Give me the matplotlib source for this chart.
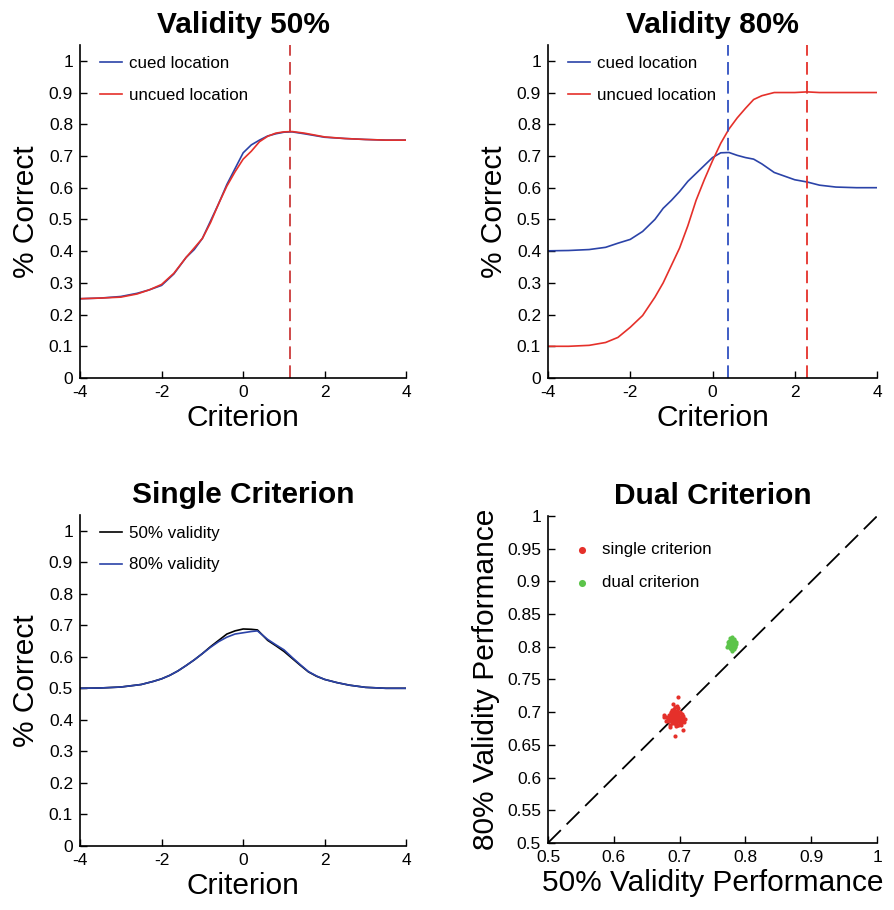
import numpy as np
import matplotlib
matplotlib.use("Agg")
import matplotlib.pyplot as plt

plt.rcParams['font.family'] = ['Liberation Sans', 'DejaVu Sans']

# =========================
# DATA
# =========================

# Validity 50%
x50 = [-4, -3.5, -3, -2.6, -2.3, -2, -1.7, -1.4, -1.2, -1.0, -0.8, -0.6, -0.4, -0.2,
       0, 0.2, 0.4, 0.6, 0.8, 1.0, 1.2, 1.5, 2.0, 2.5, 3.0, 3.5, 4]
cued50 = [0.25, 0.252, 0.257, 0.267, 0.278, 0.292, 0.328, 0.38, 0.405, 0.44, 0.495, 0.55, 0.61, 0.66,
          0.71, 0.735, 0.750, 0.763, 0.770, 0.775, 0.776, 0.770, 0.759, 0.755, 0.752, 0.75, 0.75]
uncued50 = [0.25, 0.252, 0.255, 0.265, 0.278, 0.295, 0.33, 0.38, 0.41, 0.44, 0.49, 0.55, 0.605, 0.65,
            0.69, 0.715, 0.745, 0.762, 0.772, 0.776, 0.777, 0.772, 0.760, 0.755, 0.752, 0.75, 0.75]
crit50 = 1.16

# Validity 80%
x80 = [-4, -3.5, -3, -2.6, -2.3, -2, -1.7, -1.4, -1.2, -1.0, -0.8, -0.6, -0.4, -0.2,
       0, 0.2, 0.4, 0.6, 0.8, 1.0, 1.2, 1.5, 2.0, 2.3, 2.6, 3.0, 3.5, 4]
cued80 = [0.401, 0.402, 0.405, 0.412, 0.425, 0.437, 0.462, 0.50, 0.535, 0.56, 0.588, 0.62, 0.645, 0.67,
          0.695, 0.71, 0.711, 0.702, 0.695, 0.69, 0.675, 0.648, 0.625, 0.618, 0.608, 0.602, 0.60, 0.60]
uncued80 = [0.10, 0.10, 0.103, 0.112, 0.128, 0.16, 0.197, 0.255, 0.30, 0.355, 0.41, 0.48, 0.56, 0.625,
            0.685, 0.74, 0.785, 0.82, 0.85, 0.878, 0.89, 0.90, 0.90, 0.902, 0.90, 0.90, 0.90, 0.90]
crit80_cued = 0.37
crit80_uncued = 2.3

# Single criterion
xs = [-4, -3.5, -3, -2.5, -2.2, -2, -1.8, -1.6, -1.4, -1.2, -1.0, -0.8, -0.6, -0.4, -0.2,
      0, 0.2, 0.35, 0.6, 0.8, 1.0, 1.2, 1.4, 1.6, 1.8, 2.0, 2.3, 2.6, 3.0, 3.5, 4]
single50 = [0.50, 0.501, 0.504, 0.512, 0.522, 0.53, 0.541, 0.555, 0.572, 0.59, 0.61, 0.632, 0.652, 0.672, 0.682,
            0.688, 0.687, 0.685, 0.652, 0.635, 0.617, 0.595, 0.573, 0.552, 0.538, 0.528, 0.518, 0.51, 0.503, 0.50, 0.50]
single80 = [0.50, 0.501, 0.504, 0.512, 0.522, 0.53, 0.541, 0.555, 0.572, 0.59, 0.61, 0.630, 0.648, 0.662, 0.672,
            0.676, 0.680, 0.682, 0.655, 0.638, 0.622, 0.598, 0.575, 0.553, 0.539, 0.528, 0.518, 0.51, 0.503, 0.50, 0.50]

# Dual criterion scatter
red_x = [0.691, 0.694, 0.688, 0.696, 0.698, 0.686, 0.692, 0.700, 0.703, 0.684,
         0.689, 0.695, 0.697, 0.701, 0.687, 0.693, 0.699, 0.704, 0.680, 0.685,
         0.690, 0.693, 0.697, 0.702, 0.706, 0.683, 0.688, 0.691, 0.695, 0.699,
         0.705, 0.677, 0.686, 0.689, 0.694, 0.698, 0.700, 0.708, 0.682, 0.692,
         0.696, 0.690, 0.687, 0.693, 0.701, 0.695, 0.689, 0.697, 0.684, 0.691,
         0.694, 0.688, 0.707, 0.676, 0.696, 0.699, 0.692, 0.704, 0.695, 0.698,
         0.6975, 0.6934, 0.7046, 0.679, 0.703, 0.685, 0.700, 0.690, 0.694, 0.702]
red_y = [0.690, 0.695, 0.687, 0.692, 0.689, 0.694, 0.699, 0.693, 0.688, 0.691,
         0.683, 0.685, 0.697, 0.698, 0.700, 0.684, 0.686, 0.691, 0.693, 0.688,
         0.696, 0.702, 0.681, 0.684, 0.690, 0.686, 0.692, 0.705, 0.688, 0.701,
         0.694, 0.692, 0.681, 0.697, 0.679, 0.695, 0.686, 0.689, 0.689, 0.692,
         0.702, 0.687, 0.698, 0.708, 0.683, 0.691, 0.704, 0.680, 0.696, 0.683,
         0.689, 0.693, 0.685, 0.695, 0.710, 0.690, 0.686, 0.697, 0.682, 0.706,
         0.723, 0.663, 0.673, 0.687, 0.692, 0.677, 0.700, 0.712, 0.699, 0.681]
green_x = [0.779, 0.776, 0.781, 0.783, 0.775, 0.778, 0.780, 0.782, 0.777, 0.784,
           0.774, 0.779, 0.781, 0.776, 0.783, 0.778, 0.780, 0.785, 0.773, 0.777,
           0.782, 0.779, 0.776, 0.781, 0.784, 0.778, 0.780, 0.775, 0.783, 0.777,
           0.779, 0.781, 0.772, 0.786, 0.778, 0.780, 0.782, 0.776, 0.779, 0.783]
green_y = [0.805, 0.808, 0.803, 0.806, 0.801, 0.810, 0.800, 0.809, 0.804, 0.802,
           0.807, 0.812, 0.797, 0.799, 0.810, 0.796, 0.807, 0.804, 0.803, 0.813,
           0.801, 0.815, 0.805, 0.811, 0.799, 0.800, 0.803, 0.809, 0.803, 0.798,
           0.808, 0.806, 0.800, 0.807, 0.806, 0.794, 0.797, 0.802, 0.801, 0.812]

# =========================
# STYLE
# =========================

BLUE = "#2b43a8"
RED = "#e5302a"
DRED = "#cc3a3a"
GREEN = "#5cc44a"
TITLE_FS = 21.5
LABEL_FS = 21.5
TICK_FS = 12.5
LEG_FS = 12.2

fig = plt.figure(figsize=(8.94, 9.10), dpi=100)


def style_axes(ax):
    ax.spines['top'].set_visible(False)
    ax.spines['right'].set_visible(False)
    ax.spines['left'].set_linewidth(1.2)
    ax.spines['bottom'].set_linewidth(1.2)
    ax.tick_params(direction='in', length=5, width=1, labelsize=TICK_FS, pad=5)


def criterion_axes(ax):
    style_axes(ax)
    ax.set_xlim(-4, 4)
    ax.set_ylim(0, 1.05)
    ax.set_xticks([-4, -2, 0, 2, 4])
    ax.set_xticklabels(["-4", "-2", "0", "2", "4"])
    yt = np.round(np.arange(0, 1.01, 0.1), 1)
    ax.set_yticks(yt)
    ax.set_yticklabels(["0"] + [f"{v:g}" for v in yt[1:-1]] + ["1"])
    ax.set_xlabel("Criterion", fontsize=LABEL_FS, labelpad=3)
    ax.set_ylabel("% Correct", fontsize=LABEL_FS, labelpad=6)


def legend(ax):
    ax.legend(loc='upper left', bbox_to_anchor=(0.061, 0.966), frameon=False,
              fontsize=LEG_FS, handlelength=1.3, handletextpad=0.4,
              labelspacing=0.97, borderpad=0, borderaxespad=0)


# =========================
# VALIDITY 50%
# =========================
ax1 = fig.add_axes([0.0895, 0.5846, 0.365, 0.366])
ax1.plot(x50, cued50, color=BLUE, lw=1.2, label="cued location")
ax1.plot(x50, uncued50, color=RED, lw=1.2, label="uncued location")
ax1.axvline(crit50, color=DRED, lw=1.3, ls=(0, (7, 3.5)))
criterion_axes(ax1)
ax1.set_title("Validity 50%", fontsize=TITLE_FS, fontweight='bold', pad=8.5)
legend(ax1)

# =========================
# VALIDITY 80%
# =========================
ax2 = fig.add_axes([0.613, 0.5846, 0.368, 0.366])
ax2.plot(x80, cued80, color=BLUE, lw=1.2, label="cued location")
ax2.plot(x80, uncued80, color=RED, lw=1.2, label="uncued location")
ax2.axvline(crit80_cued, color="#3050c0", lw=1.3, ls=(0, (7, 3.5)))
ax2.axvline(crit80_uncued, color=RED, lw=1.3, ls=(0, (7, 3.5)))
criterion_axes(ax2)
ax2.set_title("Validity 80%", fontsize=TITLE_FS, fontweight='bold', pad=8.5)
legend(ax2)

# =========================
# SINGLE CRITERION
# =========================
ax3 = fig.add_axes([0.0895, 0.0703, 0.365, 0.364])
ax3.plot(xs, single50, color="black", lw=1.2, label="50% validity")
ax3.plot(xs, single80, color=BLUE, lw=1.2, label="80% validity")
criterion_axes(ax3)
ax3.set_title("Single Criterion", fontsize=TITLE_FS, fontweight='bold', pad=8.5)
legend(ax3)

# =========================
# DUAL CRITERION
# =========================
ax4 = fig.add_axes([0.613, 0.0738, 0.368, 0.359])
ax4.plot([0.5, 1], [0.5, 1], color="black", lw=1.3, ls=(0, (10, 4.5)))
ax4.scatter(red_x, red_y, s=9, color=RED, lw=0, label="single criterion", zorder=3)
ax4.scatter(green_x, green_y, s=9, color=GREEN, lw=0, label="dual criterion", zorder=3)
style_axes(ax4)
ax4.set_xlim(0.5, 1)
ax4.set_ylim(0.5, 1)
ax4.set_xticks([0.5, 0.6, 0.7, 0.8, 0.9, 1.0])
ax4.set_xticklabels(["0.5", "0.6", "0.7", "0.8", "0.9", "1"])
ax4.set_yticks(np.round(np.arange(0.5, 1.001, 0.05), 2))
ax4.set_yticklabels(["0.5", "0.55", "0.6", "0.65", "0.7", "0.75", "0.8", "0.85", "0.9", "0.95", "1"])
ax4.set_xlabel("50% Validity Performance", fontsize=LABEL_FS, labelpad=3)
ax4.set_ylabel("80% Validity Performance", fontsize=LABEL_FS, labelpad=5)
ax4.set_title("Dual Criterion", fontsize=TITLE_FS, fontweight='bold', pad=8.5)
ax4.legend(loc='upper left', bbox_to_anchor=(0.0775, 0.92), frameon=False,
           fontsize=LEG_FS, markerscale=1.7, handlelength=1.0, handletextpad=0.68,
           labelspacing=1.05, borderpad=0, borderaxespad=0, scatterpoints=1)

fig.savefig("out.png", dpi=100)
